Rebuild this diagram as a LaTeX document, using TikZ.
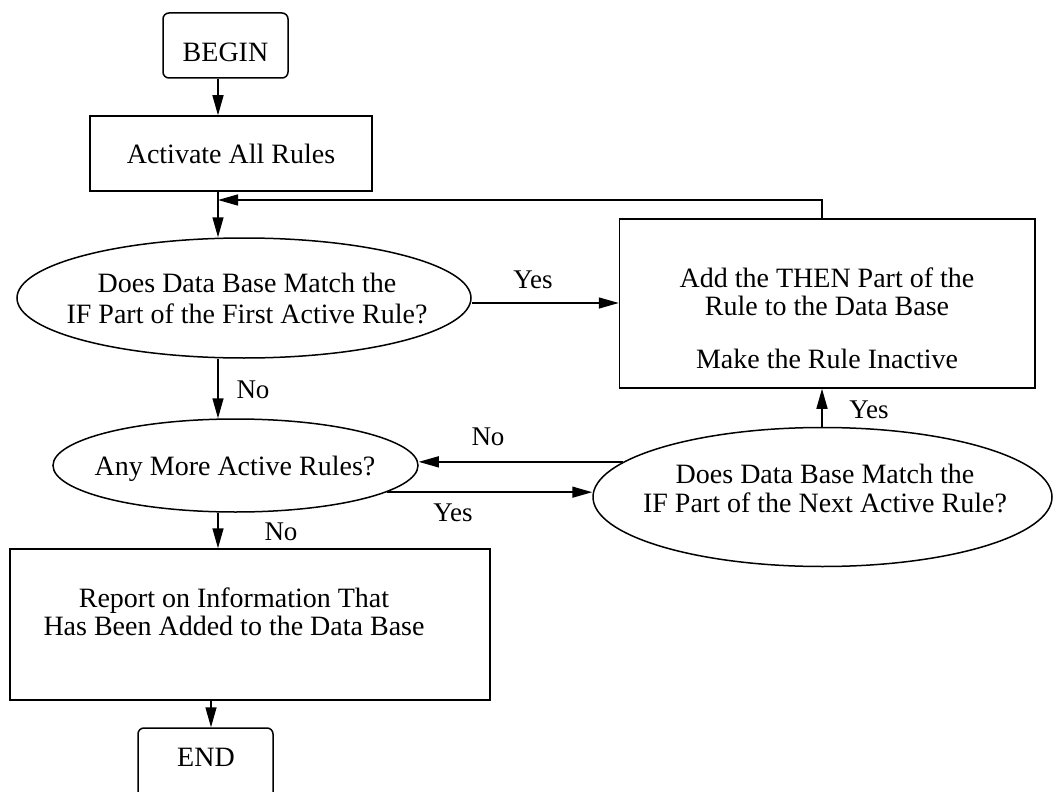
\documentclass[tikz,border=0pt]{standalone}
\usepackage{fontspec}
\setmainfont{Liberation Serif}
\usetikzlibrary{shapes.geometric,arrows.meta}
\begin{document}
\begin{tikzpicture}[x=1pt,y=-1pt,
  line width=1.5pt,
  arr/.style={-{Triangle[length=20pt,width=11pt]}, line width=1.5pt},
  box/.style={draw, rectangle, inner sep=0pt, line width=1.5pt},
  term/.style={box, rounded corners=6pt},
  test/.style={draw, ellipse, inner sep=0pt, line width=1.5pt},
  txt/.style={anchor=base, inner sep=0pt, font=\fontsize{28}{32}\selectfont},
  lbl/.style={inner sep=0pt, font=\fontsize{27}{30}\selectfont},
]
\useasboundingbox (0,0) rectangle (1053,792);
\clip (0,0) rectangle (1053,792);

% guide lines of the flow
\coordinate (spine) at (218,0);
\coordinate (riser) at (822,0);
\coordinate (drop)  at (211,0);
\coordinate (loop)  at (218,200);

% shapes
\node[term, minimum width=125pt, minimum height=65pt] (begin) at (225.5,45.5) {};
\node[box, minimum width=282pt, minimum height=75pt] (activate) at (231,153.5) {};
\node[test, minimum width=454pt, minimum height=120pt] (ask1) at (244,298) {};
\node[box, minimum width=415.5pt, minimum height=169pt] (add) at (827.25,303.5) {};
\node[test, minimum width=365pt, minimum height=93pt] (more) at (235.5,465.5) {};
\node[test, minimum width=459pt, minimum height=139pt] (ask2) at (822.5,497) {};
\node[box, minimum width=480pt, minimum height=151pt] (report) at (250,624.5) {};
\node[term, minimum width=135pt, minimum height=90pt] (endbox) at (205.5,773) {};

% texts
\node[txt] (tbegin) at (225.5,62) {BEGIN};
\node[txt] (tact) at (231,163) {Activate All Rules};
\node[txt] (task1a) at (247,292) {Does Data Base Match the};
\node[txt] (task1b) at (247,323) {IF Part of the First Active Rule?};
\node[txt] (tadda) at (827,287) {Add the THEN Part of the};
\node[txt] (taddb) at (827,315) {Rule to the Data Base};
\node[txt] (taddc) at (827,368) {Make the Rule Inactive};
\node[txt] (tmore) at (235,475) {Any More Active Rules?};
\node[txt] (task2a) at (825,483) {Does Data Base Match the};
\node[txt] (task2b) at (825,512) {IF Part of the Next Active Rule?};
\node[txt] (trepa) at (234,607) {Report on Information That};
\node[txt] (trepb) at (234,635) {Has Been Added to the Data Base};
\node[txt] (tend) at (206,766) {END};

% connectors
\draw[arr] (spine |- begin.south) -- (spine |- activate.north);
\draw[arr] (spine |- activate.south) -- (spine |- ask1.north);
\draw[arr] (riser |- add.north) -- (riser |- loop) -- (loop);
\draw[arr] ([yshift=-5pt]ask1.east) coordinate (yesout) -- (yesout -| add.west);
\draw[arr] (spine |- ask1.south) -- (spine |- more.north);
\draw[arr] (ask2.170.7) -- (ask2.170.7 -| more.east);
\draw[arr] (more.-10) -- (more.-10 -| ask2.west);
\draw[arr] (riser |- ask2.north) -- (riser |- add.south);
\draw[arr] (spine |- more.south) -- (spine |- report.north);
\draw[arr] (drop |- report.south) -- (drop |- endbox.north);

% branch labels
\node[lbl] (yes1) at (533,280) {Yes};
\node[lbl] (no1) at (253,390) {No};
\node[lbl] (no2) at (488,437) {No};
\node[lbl] (yes2) at (453,513) {Yes};
\node[lbl] (no3) at (281,532) {No};
\node[lbl] (yes3) at (869,410) {Yes};
\end{tikzpicture}
\end{document}
